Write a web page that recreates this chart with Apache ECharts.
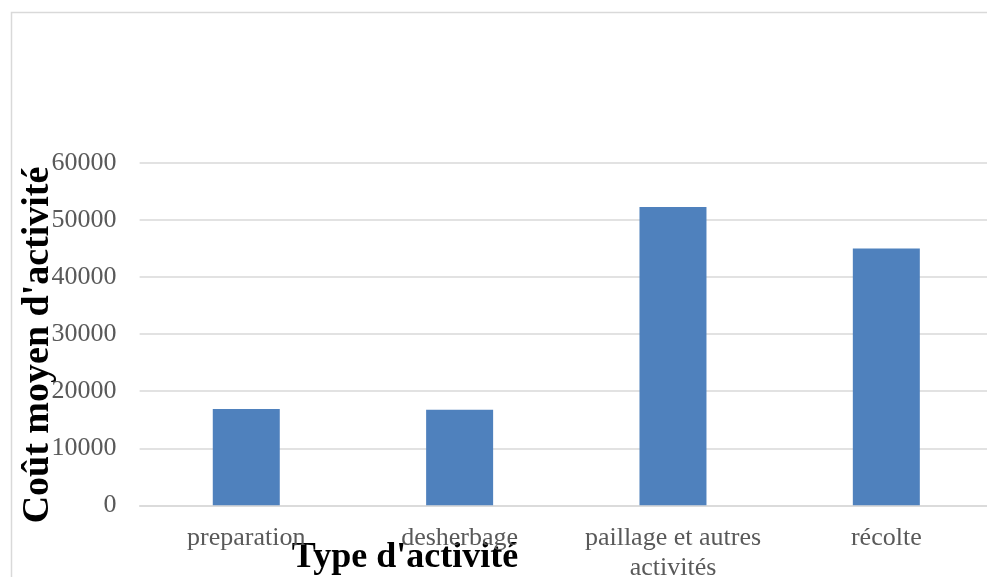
<!DOCTYPE html>
<html>
<head>
<meta charset="utf-8">
<script src="https://cdn.jsdelivr.net/npm/echarts@6/dist/echarts.min.js"></script>
<style>
  html, body { margin: 0; padding: 0; background: #ffffff; }
  #chart { width: 987px; height: 577px; }
</style>
</head>
<body>
<div id="chart"></div>
<script>
// Average cost per type of activity
const categories = ['preparation', 'desherbage', 'paillage et autres activités', 'récolte'];
const costValues = [16900, 16750, 52300, 45000];
const yTicks = { min: 0, max: 60000, interval: 10000 };

const xTitle = "Type d'activité";
const yTitle = "Coût moyen d'activité";

const chart = echarts.init(document.getElementById('chart'));

const labelFont = 'Liberation Serif, Times New Roman, serif';

chart.setOption({
  backgroundColor: '#ffffff',
  animation: false,
  grid: {
    left: 139.6, right: -6, top: 163, bottom: 71.7,
    containLabel: false,
    outerBoundsMode: 'none'
  },
  xAxis: {
    type: 'category',
    data: categories,
    axisLine: { show: true, lineStyle: { color: '#d9d9d9', width: 1.5 } },
    axisTick: { show: false },
    axisLabel: {
      color: '#595959',
      fontFamily: labelFont,
      fontSize: 26,
      lineHeight: 30,
      margin: 18,
      interval: 0,
      formatter: v => v.replace(' autres ', ' autres\n')
    }
  },
  yAxis: {
    type: 'value',
    min: yTicks.min,
    max: yTicks.max,
    interval: yTicks.interval,
    axisLine: { show: false },
    axisTick: { show: false },
    splitLine: { lineStyle: { color: '#d9d9d9', width: 1.5 } },
    axisLabel: {
      color: '#595959',
      fontFamily: labelFont,
      fontSize: 26,
      margin: 23,
      padding: [3, 0, 0, 0],
      formatter: v => String(v)
    }
  },
  series: [{
    type: 'bar',
    data: costValues,
    barWidth: 67,
    itemStyle: { color: '#4f81bd' }
  }],
  graphic: [
    {
      type: 'rect',
      silent: true,
      shape: { x: 11.5, y: 12.5, width: 1000, height: 600 },
      style: { fill: 'none', stroke: '#d9d9d9', lineWidth: 1.5 }
    },
    {
      type: 'text',
      silent: true,
      x: 405, y: 558,
      style: {
        text: xTitle,
        font: 'bold 36px Liberation Serif, Times New Roman, serif',
        fill: '#000000',
        align: 'center',
        verticalAlign: 'middle'
      }
    },
    {
      type: 'text',
      silent: true,
      x: 38, y: 345,
      rotation: Math.PI / 2,
      style: {
        text: yTitle,
        font: 'bold 38px Liberation Serif, Times New Roman, serif',
        fill: '#000000',
        align: 'center',
        verticalAlign: 'middle'
      }
    }
  ]
});
</script>
</body>
</html>
